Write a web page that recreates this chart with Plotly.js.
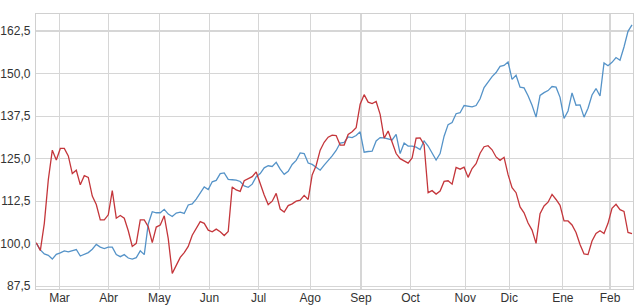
<!DOCTYPE html>
<html>
<head>
<meta charset="utf-8">
<script src="https://cdn.plot.ly/plotly-3.0.1.min.js"></script>
<style>html,body{margin:0;padding:0;background:#fff;}#chart{width:642px;height:308px;}</style>
</head>
<body>
<div id="chart"></div>
<script>
// Month tick labels and their positions (in sample index units)
const monthLabels = ["Mar","Abr","May","Jun","Jul","Ago","Sep","Oct","Nov","Dic","Ene","Feb"];
const monthPos = [5.8, 18.1, 30.8, 43.3, 55.6, 68.5, 81.2, 93.6, 107.3, 118.3, 131.7, 143.5];
const yTicks = [87.5, 100, 112.5, 125, 137.5, 150, 162.5];

// Series values (rebased to 100)
const redSeries = [
100.3,98,106,118.8,127.5,124.6,128,128,125.8,120.6,
121.6,117.3,120,119.5,114,111.5,107,107,108.5,115.6,
107.5,108.3,107.5,103.8,99.2,100.1,107,107,105,100.3,
104.9,105.5,108.2,101.5,91.3,93.5,96,97.4,99.2,102.5,
104.7,106.5,106,104,103.5,104.3,103.5,102.4,103.6,116.7,
115.8,115.4,118.5,119,119.7,121.1,117.5,114.3,111.5,112.5,
114.8,110.2,109.3,111.2,111.7,112.5,112.8,114.2,113,120.2,
123,127.5,129.8,131.3,131.9,131.8,129,129,132.1,132.9,
134.1,141,143.8,141.6,141.2,141.8,138,131,133.1,129.5,
126.5,125,124.4,123.7,125.2,131,131.1,129.1,115,115.6,
114.6,115.5,118.3,118.5,117.5,122.4,121.9,122.5,119.5,122.1,
123.5,126.6,128.5,128.8,127.6,125.5,124.5,125.4,120.3,116.5,
115,110.8,109.1,106.1,104,100.1,108.8,111.1,112.2,114.5,
113,111.3,106.7,106.7,105.5,103.3,99.8,97,96.8,100.8,
103,103.8,103,106,110.4,111.6,110,109.5,103.3,103
];
const blueSeries = [
100.1,98.2,97,96.6,95.5,96.9,97.3,97.9,97.6,98,
98.3,96.4,96.9,97.4,98.4,99.8,99,98.6,99,99,
96.8,96.2,96.8,95.8,95.5,95.9,97.9,96.8,105.8,109.4,
109.1,109.1,110.1,108.7,108,109,109.3,108.9,111.4,111.7,
113.1,114.8,116.7,115.9,118.2,118.6,120.6,120.8,118.9,118.8,
118.7,118.3,117,116.6,117.5,119.7,120.6,122.3,122.9,122.7,
123.9,121.9,120.4,121.3,123.3,124.5,126.7,126.5,123.7,123.3,
122.4,121.6,123.1,124.3,125.8,127.4,129.6,129.8,131.4,131.2,
131.8,132.9,126.9,127.1,127.2,130.2,131.2,131.1,130.7,130.5,
132.1,126.5,129.6,128.7,128.7,128.4,127.7,130.2,128.7,126.5,
124.6,126.5,131.6,135,135.6,138.2,138.5,140.6,140.3,140.2,
140.6,142.6,145.9,147.7,149.1,150.3,152.1,152.4,153.4,148.3,
149.5,146,145.8,143.5,140.7,137.2,143.6,144.4,145,146.2,
146,143,136.8,139,144.3,140.7,140.8,137.2,139.8,143.7,
145.6,143.4,153.1,152.3,153.3,154.7,153.9,157.8,162.4,164.3
];

const xIdx = redSeries.map((_, i) => i);

const traces = [
  {x: xIdx, y: blueSeries, type: 'scatter', mode: 'lines',
   line: {color: '#5593c8', width: 1.3}, hoverinfo: 'skip'},
  {x: xIdx, y: redSeries, type: 'scatter', mode: 'lines',
   line: {color: '#c4363b', width: 1.3}, hoverinfo: 'skip'}
];

const fontSpec = {family: 'Liberation Sans, Arial, sans-serif', size: 12, color: '#333'};

const layout = {
  width: 642, height: 308,
  margin: {l: 36, r: 9, t: 14, b: 19, pad: 0},
  paper_bgcolor: '#fff', plot_bgcolor: '#fff',
  showlegend: false,
  separators: ',.',
  font: fontSpec,
  xaxis: {
    range: [-0.08, 149.25],
    tickvals: monthPos, ticktext: monthLabels,
    showgrid: true, gridcolor: '#d6d6d6', gridwidth: 1.2,
    zeroline: false,
    showline: true, mirror: true, linecolor: '#d0d0d0', linewidth: 1.2,
    ticks: '', ticklabelstandoff: -3,
    tickfont: fontSpec
  },
  yaxis: {
    range: [86.7, 167.5],
    tickvals: yTicks, tickformat: '.1f',
    showgrid: true, gridcolor: '#d6d6d6', gridwidth: 1.2,
    zeroline: false,
    showline: true, mirror: true, linecolor: '#d0d0d0', linewidth: 1.2,
    ticks: '', ticklabelstandoff: 2,
    tickfont: fontSpec
  }
};

Plotly.newPlot('chart', traces, layout, {staticPlot: true, displayModeBar: false});
</script>
</body>
</html>
